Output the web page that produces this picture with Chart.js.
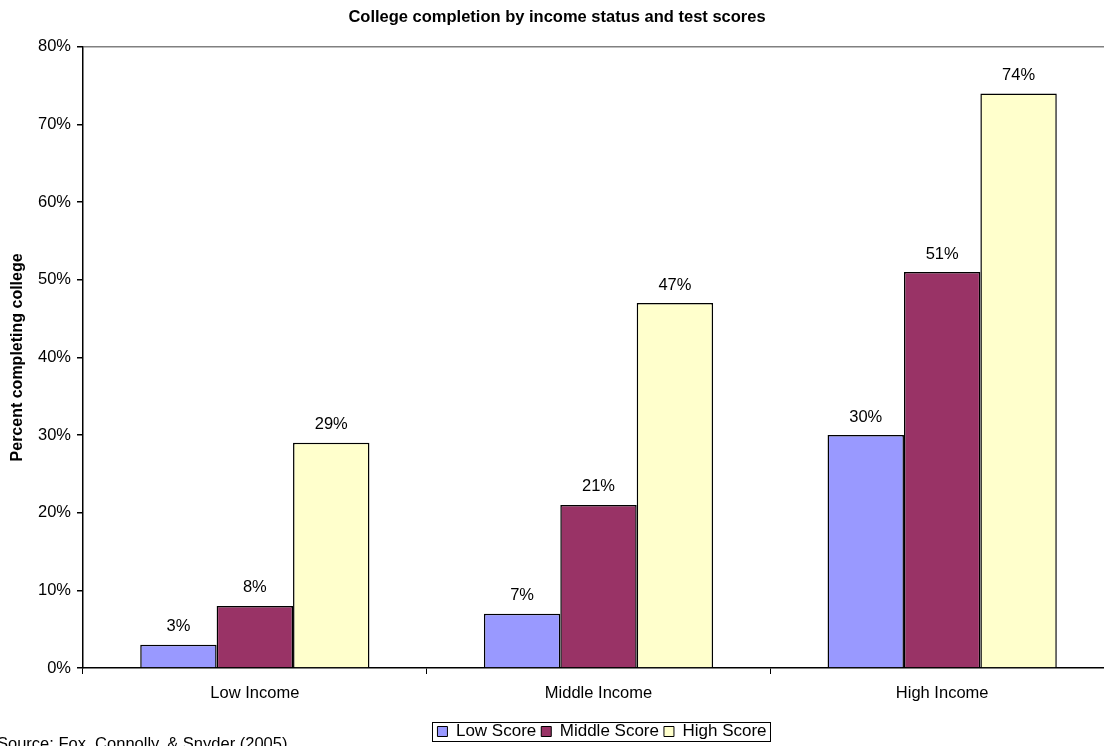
<!DOCTYPE html>
<html>
<head>
<meta charset="utf-8">
<style>
  html, body { margin: 0; padding: 0; background: #fff; overflow: hidden; }
  #wrap { width: 1114px; height: 746px; }
</style>
<script src="https://cdn.jsdelivr.net/npm/chart.js@4.4.0/dist/chart.umd.min.js"></script>
</head>
<body>
<div id="wrap"><canvas id="myChart"></canvas></div>
<script>
const categories = ['Low Income', 'Middle Income', 'High Income'];
const seriesNames = ['Low Score', 'Middle Score', 'High Score'];
const lowScore = [0.03, 0.07, 0.30];
const middleScore = [0.08, 0.21, 0.51];
const highScore = [0.29, 0.47, 0.74];
const seriesColors = ['#9999FF', '#993366', '#FFFFCC'];

const FONT = '"Liberation Sans", Arial, sans-serif';
Chart.defaults.font.family = FONT;
Chart.defaults.color = '#000';

// value labels above each bar
const barLabels = {
	id: 'barLabels',
	afterDatasetsDraw(chart) {
		const ctx = chart.ctx;
		ctx.save();
		ctx.font = '16.5px ' + FONT;
		ctx.fillStyle = '#000';
		ctx.textAlign = 'center';
		ctx.textBaseline = 'middle';
		chart.data.datasets.forEach((ds, i) => {
			chart.getDatasetMeta(i).data.forEach((bar, j) => {
				ctx.fillText(Math.round(ds.data[j] * 100) + '%', bar.x, bar.y - 18);
			});
		});
		ctx.restore();
	}
};

// nudge the legend a bit right and down, like the original
const legendShift = {
	id: 'legendShift',
	afterLayout(chart) {
		const lg = chart.legend;
		if (!lg) return;
		lg.left += 45; lg.right += 45;
		lg.top += 4; lg.bottom += 4;
	}
};

// box round the legend and the source note
const extras = {
	id: 'extras',
	afterDraw(chart) {
		const ctx = chart.ctx;
		const lg = chart.legend;
		if (lg && lg.legendHitBoxes.length) {
			const boxes = lg.legendHitBoxes;
			const x0 = boxes[0].left - 5;
			const last = boxes[boxes.length - 1];
			const x1 = last.left + last.width + 4;
			const y0 = boxes[0].top - 1;
			const y1 = boxes[0].top + boxes[0].height + 1;
			ctx.save();
			ctx.strokeStyle = '#000';
			ctx.lineWidth = 1;
			ctx.strokeRect(Math.round(x0) + 0.5, Math.round(y0) + 0.5, Math.round(x1 - x0), Math.round(y1 - y0));
			ctx.restore();
		}
		ctx.save();
		ctx.font = '16.5px ' + FONT;
		ctx.fillStyle = '#000';
		ctx.textBaseline = 'middle';
		ctx.fillText('Source: Fox, Connolly, & Snyder (2005)', -3, 744);
		ctx.restore();
	}
};

const ctx = document.getElementById('myChart').getContext('2d');
const chart = new Chart(ctx, {
	type: 'bar',
	data: {
		labels: categories,
		datasets: [
			{ label: seriesNames[0], data: lowScore, backgroundColor: seriesColors[0] },
			{ label: seriesNames[1], data: middleScore, backgroundColor: seriesColors[1] },
			{ label: seriesNames[2], data: highScore, backgroundColor: seriesColors[2] }
		].map(d => Object.assign(d, { borderColor: '#000', borderWidth: 1.5, barPercentage: 1, categoryPercentage: 0.667 }))
	},
	options: {
		responsive: true,
		maintainAspectRatio: false,
		animation: false,
		layout: { padding: { left: 0, right: 0, top: 0, bottom: 0 } },
		plugins: {
			title: {
				display: true,
				text: 'College completion by income status and test scores',
				font: { size: 16.5, weight: 'bold' },
				color: '#000',
				padding: { top: 8, bottom: 19 }
			},
			legend: {
				position: 'bottom',
				labels: {
					boxWidth: 10,
					boxHeight: 10,
					padding: 5,
					font: { size: 17 },
					color: '#000',
					generateLabels(chart) {
						return chart.data.datasets.map((ds, i) => ({
							text: ds.label,
							fillStyle: ds.backgroundColor,
							strokeStyle: '#000',
							lineWidth: 1,
							datasetIndex: i
						}));
					}
				}
			},
			tooltip: { enabled: false }
		},
		scales: {
			x: {
				grid: {
					offset: true,
					drawOnChartArea: false,
					tickLength: 6,
					tickColor: '#000'
				},
				border: { color: '#000', width: 1.5 },
				ticks: { font: { size: 16.5 }, color: '#000', padding: 10 },
				afterFit(scale) { scale.height = 46; }
			},
			y: {
				min: 0,
				max: 0.8,
				ticks: {
					stepSize: 0.1,
					font: { size: 16.5 },
					color: '#000',
					padding: 6,
					callback: v => Math.round(v * 100) + '%'
				},
				grid: {
					color: c => (c.tick && Math.abs(c.tick.value - 0.8) < 1e-9) ? '#808080' : 'rgba(0,0,0,0)',
					lineWidth: 1.5,
					tickLength: 6,
					tickColor: '#000'
				},
				border: { color: '#000', width: 1.5 },
				title: {
					display: true,
					text: 'Percent completing college',
					font: { size: 16, weight: 'bold' },
					color: '#000',
					padding: { top: 8, bottom: 6 }
				},
				afterFit(scale) { scale.width = 83; }
			}
		}
	},
	plugins: [barLabels, legendShift, extras]
});
</script>
</body>
</html>
